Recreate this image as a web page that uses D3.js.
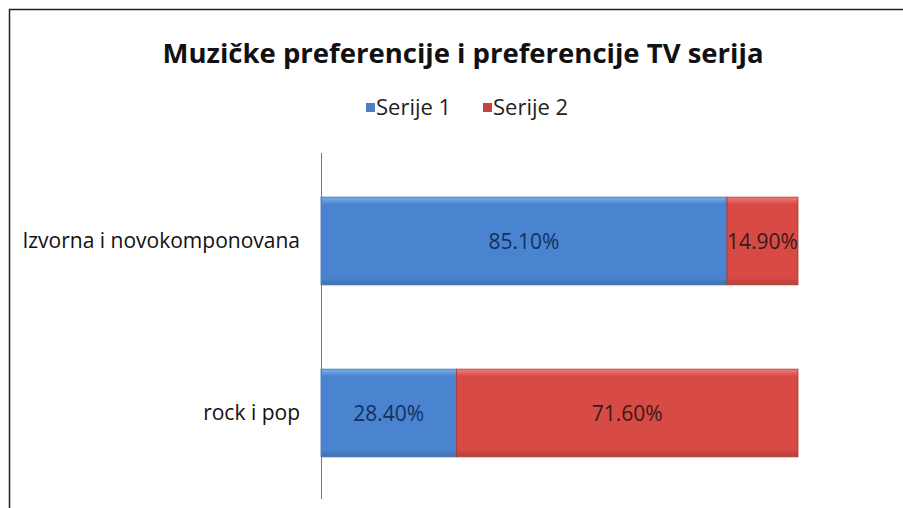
<!DOCTYPE html>
<html>
<head>
<meta charset="utf-8">
<script src="https://cdn.jsdelivr.net/npm/d3@7"></script>
<style>
  body { margin: 0; background: #fff; }
  text { font-family: "Open Sans", "Noto Sans", sans-serif; }
</style>
</head>
<body>
<script>
// data
const kategorije = ["Izvorna i novokomponovana", "rock i pop"];
const serije = ["Serije 1", "Serije 2"];
const serija1 = [85.1, 28.4];
const serija2 = [14.9, 71.6];

const width = 903, height = 508;
const plot = { left: 321, right: 798, top: 155, bottom: 499 };

const svg = d3.select("body").append("svg")
    .attr("width", width)
    .attr("height", height);

// gradients for bars
const defs = svg.append("defs");
const grad = (id, c1, c2) => {
    const g = defs.append("linearGradient").attr("id", id)
        .attr("x1", 0).attr("y1", 0).attr("x2", 0).attr("y2", 1);
    g.append("stop").attr("offset", "0%").attr("stop-color", c1);
    g.append("stop").attr("offset", "8%").attr("stop-color", c2);
    g.append("stop").attr("offset", "92%").attr("stop-color", c2);
    g.append("stop").attr("offset", "100%").attr("stop-color", d3.color(c2).darker(0.5));
};
grad("gBlue", "#7fb0ea", "#4a84d0");
grad("gRed", "#f0807a", "#d84a45");
const boje = ["url(#gBlue)", "url(#gRed)"];
const ivice = ["#3a6aa8", "#a83a36"];
const bojeLegende = ["#4a7fc8", "#c9413e"];

// frame (only top and left visible)
svg.append("path")
    .attr("d", "M9.5," + height + " V9.5 H" + width)
    .attr("fill", "none")
    .attr("stroke", "#222")
    .attr("stroke-width", 1.5);

// title
svg.append("text")
    .attr("x", 463)
    .attr("y", 63)
    .attr("text-anchor", "middle")
    .attr("font-size", 27.5)
    .attr("font-weight", "bold")
    .attr("fill", "#111")
    .text("Muzičke preferencije i preferencije TV serija");

// legend
const legenda = svg.append("g").attr("transform", "translate(366,115)");
const stavke = legenda.selectAll("g").data(serije).enter().append("g")
    .attr("transform", (d, i) => "translate(" + (i * 117) + ",0)");
stavke.append("rect")
    .attr("x", 0).attr("y", -12)
    .attr("width", 9).attr("height", 9)
    .attr("fill", (d, i) => bojeLegende[i]);
stavke.append("text")
    .attr("x", 10).attr("y", 0)
    .attr("font-size", 22)
    .attr("fill", "#222")
    .text(d => d);

// scales
const x = d3.scaleLinear().domain([0, 100]).range([plot.left, plot.right]);
const y = d3.scaleBand().domain(kategorije).range([plot.top, plot.bottom]).paddingInner(0.49).paddingOuter(0.245);

// stacked data
const podaci = kategorije.map((k, i) => ({ kat: k, s1: serija1[i], s2: serija2[i] }));
const stek = d3.stack().keys(["s1", "s2"])(podaci);

const slojevi = svg.selectAll(".sloj").data(stek).enter().append("g")
    .attr("class", "sloj");

slojevi.selectAll("rect").data((d, i) => d.map(v => ({ v: v, i: i }))).enter().append("rect")
    .attr("x", d => x(d.v[0]))
    .attr("y", d => y(d.v.data.kat))
    .attr("width", d => x(d.v[1]) - x(d.v[0]))
    .attr("height", y.bandwidth())
    .attr("fill", d => boje[d.i])
    .attr("stroke", d => ivice[d.i])
    .attr("stroke-width", 0.8);

slojevi.selectAll("text").data((d, i) => d.map(v => ({ v: v, i: i }))).enter().append("text")
    .attr("x", d => (x(d.v[0]) + x(d.v[1])) / 2)
    .attr("y", d => y(d.v.data.kat) + y.bandwidth() / 2)
    .attr("dy", "0.36em")
    .attr("text-anchor", "middle")
    .attr("font-size", 21)
    .attr("fill", d => d.i === 0 ? "#13305e" : "#3a1a18")
    .text(d => (d.v[1] - d.v[0]).toFixed(2) + "%");

// category axis
const osa = svg.append("g")
    .attr("transform", "translate(" + plot.left + ",0)")
    .call(d3.axisLeft(y).tickSize(0).tickPadding(21));
osa.select(".domain").attr("stroke", "#777").attr("stroke-width", 1)
    .attr("d", "M0.5," + (plot.top - 2) + "V" + plot.bottom);
osa.selectAll("text")
    .attr("font-size", 21)
    .attr("fill", "#111")
    .style("font-family", "'Open Sans', sans-serif");
</script>
</body>
</html>
